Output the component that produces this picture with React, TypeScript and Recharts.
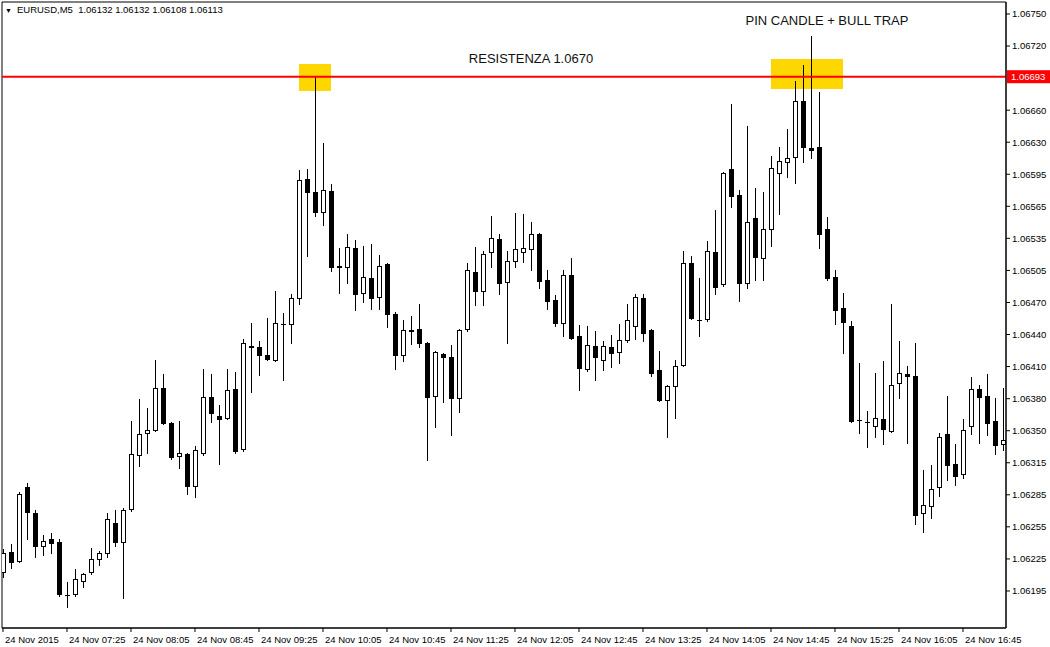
import React from 'react';
import {
  ComposedChart,
  Bar,
  XAxis,
  YAxis,
  ReferenceLine,
  ReferenceArea,
  ReferenceDot,
} from 'recharts';

// EURUSD M5, 24 Nov 2015, candles 06:45 .. 17:10 (one per 5 minutes)
const OPEN = [
  1.06217, 1.06236, 1.06227, 1.06298, 1.06273, 1.06242, 1.06248, 1.06246, 1.06195, 1.06196,
  1.06208, 1.06217, 1.06229, 1.06235, 1.06264, 1.06246, 1.06277, 1.06329, 1.06350, 1.06353,
  1.06394, 1.06360, 1.06328, 1.06330, 1.06299, 1.06331, 1.06385, 1.06367, 1.06365, 1.06393,
  1.06335, 1.06434, 1.06433, 1.06425, 1.06421, 1.06455, 1.06455, 1.06480, 1.06595, 1.06582,
  1.06563, 1.06583, 1.06511, 1.06510, 1.06528, 1.06485, 1.06499, 1.06481, 1.06513, 1.06465,
  1.06425, 1.06449, 1.06450, 1.06437, 1.06386, 1.06426, 1.06423, 1.06384, 1.06450, 1.06505,
  1.06487, 1.06524, 1.06537, 1.06496, 1.06516, 1.06524, 1.06527, 1.06542, 1.06498, 1.06478,
  1.06456, 1.06502, 1.06444, 1.06412, 1.06434, 1.06421, 1.06433, 1.06428, 1.06440, 1.06453,
  1.06480, 1.06449, 1.06411, 1.06382, 1.06396, 1.06416, 1.06514, 1.06459, 1.06460, 1.06524,
  1.06494, 1.06604, 1.06579, 1.06495, 1.06557, 1.06519, 1.06547, 1.06600, 1.06611, 1.06616,
  1.06670, 1.06624, 1.06625, 1.06547, 1.06500, 1.06471, 1.06453, 1.06363, 1.06361, 1.06357,
  1.06364, 1.06352, 1.06398, 1.06407, 1.06405, 1.06273, 1.06280, 1.06298, 1.06349, 1.06321,
  1.06311, 1.06357, 1.06393, 1.06386, 1.06362, 1.06340,
];
const HIGH = [
  1.06239, 1.06244, 1.06294, 1.06302, 1.06276, 1.06252, 1.06254, 1.06248, 1.06207, 1.06220,
  1.06216, 1.06240, 1.06237, 1.06273, 1.06276, 1.06278, 1.06362, 1.06383, 1.06374, 1.06421,
  1.06407, 1.06361, 1.06362, 1.06331, 1.06338, 1.06412, 1.06407, 1.06377, 1.06412, 1.06409,
  1.06441, 1.06456, 1.06439, 1.06461, 1.06487, 1.06466, 1.06484, 1.06603, 1.06604, 1.06693,
  1.06629, 1.06590, 1.06528, 1.06542, 1.06536, 1.06530, 1.06532, 1.06522, 1.06514, 1.06467,
  1.06459, 1.06463, 1.06474, 1.06438, 1.06429, 1.06427, 1.06435, 1.06450, 1.06514, 1.06529,
  1.06525, 1.06559, 1.06542, 1.06525, 1.06562, 1.06561, 1.06553, 1.06543, 1.06507, 1.06483,
  1.06507, 1.06519, 1.06454, 1.06453, 1.06448, 1.06439, 1.06445, 1.06455, 1.06474, 1.06484,
  1.06484, 1.06450, 1.06429, 1.06397, 1.06421, 1.06525, 1.06521, 1.06499, 1.06535, 1.06565,
  1.06601, 1.06667, 1.06584, 1.06646, 1.06586, 1.06582, 1.06617, 1.06625, 1.06643, 1.06689,
  1.06704, 1.06732, 1.06678, 1.06558, 1.06507, 1.06485, 1.06458, 1.06418, 1.06372, 1.06408,
  1.06420, 1.06474, 1.06439, 1.06415, 1.06437, 1.06315, 1.06320, 1.06350, 1.06386, 1.06340,
  1.06364, 1.06404, 1.06397, 1.06407, 1.06384, 1.06394,
];
const LOW = [
  1.06212, 1.06221, 1.06226, 1.06248, 1.06231, 1.06233, 1.06235, 1.06194, 1.06183, 1.06194,
  1.06202, 1.06215, 1.06223, 1.06231, 1.06242, 1.06192, 1.06275, 1.06319, 1.06331, 1.06352,
  1.06359, 1.06325, 1.06317, 1.06292, 1.06289, 1.06329, 1.06361, 1.06321, 1.06364, 1.06331,
  1.06333, 1.06390, 1.06406, 1.06421, 1.06420, 1.06401, 1.06437, 1.06474, 1.06521, 1.06559,
  1.06550, 1.06506, 1.06485, 1.06495, 1.06469, 1.06476, 1.06470, 1.06470, 1.06452, 1.06412,
  1.06420, 1.06436, 1.06433, 1.06324, 1.06356, 1.06380, 1.06348, 1.06371, 1.06448, 1.06473,
  1.06473, 1.06510, 1.06484, 1.06437, 1.06510, 1.06515, 1.06507, 1.06490, 1.06470, 1.06453,
  1.06444, 1.06441, 1.06392, 1.06410, 1.06401, 1.06411, 1.06414, 1.06418, 1.06438, 1.06441,
  1.06439, 1.06405, 1.06381, 1.06347, 1.06365, 1.06415, 1.06460, 1.06444, 1.06458, 1.06484,
  1.06492, 1.06568, 1.06477, 1.06490, 1.06498, 1.06498, 1.06530, 1.06561, 1.06597, 1.06591,
  1.06611, 1.06615, 1.06528, 1.06498, 1.06455, 1.06427, 1.06361, 1.06350, 1.06337, 1.06347,
  1.06340, 1.06351, 1.06384, 1.06341, 1.06263, 1.06255, 1.06269, 1.06290, 1.06305, 1.06300,
  1.06307, 1.06349, 1.06341, 1.06348, 1.06330, 1.06334,
];
const CLOSE = [
  1.06235, 1.06226, 1.06292, 1.06274, 1.06242, 1.06247, 1.06245, 1.06196, 1.06195, 1.06210,
  1.06215, 1.06229, 1.06235, 1.06268, 1.06246, 1.06276, 1.06330, 1.06349, 1.06353, 1.06394,
  1.06360, 1.06327, 1.06331, 1.06299, 1.06334, 1.06385, 1.06370, 1.06364, 1.06392, 1.06333,
  1.06437, 1.06433, 1.06425, 1.06422, 1.06456, 1.06455, 1.06480, 1.06594, 1.06582, 1.06563,
  1.06584, 1.06510, 1.06510, 1.06529, 1.06484, 1.06500, 1.06480, 1.06511, 1.06465, 1.06425,
  1.06449, 1.06448, 1.06437, 1.06385, 1.06428, 1.06423, 1.06384, 1.06449, 1.06507, 1.06487,
  1.06523, 1.06538, 1.06495, 1.06516, 1.06527, 1.06528, 1.06542, 1.06497, 1.06477, 1.06456,
  1.06502, 1.06442, 1.06413, 1.06435, 1.06423, 1.06434, 1.06427, 1.06440, 1.06459, 1.06481,
  1.06447, 1.06408, 1.06382, 1.06396, 1.06415, 1.06514, 1.06461, 1.06459, 1.06525, 1.06491,
  1.06600, 1.06578, 1.06495, 1.06553, 1.06520, 1.06547, 1.06605, 1.06612, 1.06615, 1.06670,
  1.06625, 1.06623, 1.06542, 1.06499, 1.06469, 1.06457, 1.06362, 1.06363, 1.06361, 1.06365,
  1.06354, 1.06397, 1.06408, 1.06405, 1.06272, 1.06281, 1.06297, 1.06347, 1.06320, 1.06309,
  1.06353, 1.06393, 1.06385, 1.06360, 1.06339, 1.06344,
];

// time axis: a label every 8 candles
const TIME_TICKS = [0, 8, 16, 24, 32, 40, 48, 56, 64, 72, 80, 88, 96, 104, 112, 120];
const TIME_LABELS = [
  '24 Nov 2015', '24 Nov 07:25', '24 Nov 08:05', '24 Nov 08:45', '24 Nov 09:25', '24 Nov 10:05',
  '24 Nov 10:45', '24 Nov 11:25', '24 Nov 12:05', '24 Nov 12:45', '24 Nov 13:25', '24 Nov 14:05',
  '24 Nov 14:45', '24 Nov 15:25', '24 Nov 16:05', '24 Nov 16:45',
];

// price scale (grid of the terminal, labels are rounded by it)
const PRICE_TICKS = [
  1.067533, 1.067225, 1.066608, 1.0663, 1.065992, 1.065684, 1.065376, 1.065067, 1.064759,
  1.064451, 1.064143, 1.063834, 1.063526, 1.063218, 1.06291, 1.062602, 1.062293, 1.061985,
];
const PRICE_LABELS = [
  '1.06750', '1.06720', '1.06660', '1.06630', '1.06595', '1.06565', '1.06535', '1.06505', '1.06470',
  '1.06440', '1.06410', '1.06380', '1.06350', '1.06315', '1.06285', '1.06255', '1.06225', '1.06195',
];

const RESISTANCE = 1.06693;
const PIN_ZONES = [
  { x1: 37, x2: 41, y1: 1.066793, y2: 1.067052 },
  { x1: 96, x2: 105, y1: 1.066812, y2: 1.067100 },
];
const NOTES = [
  { x: 66, y: 1.06711, text: 'RESISTENZA 1.0670' },
  { x: 103, y: 1.067475, text: 'PIN CANDLE + BULL TRAP' },
];

const Y_DOMAIN = [1.061629, 1.0676483];
const X_DOMAIN = [-0.125, 125.375];
const FONT = '"Liberation Sans", Arial, sans-serif';

const data = OPEN.map((open, i) => ({
  i,
  open,
  high: HIGH[i],
  low: LOW[i],
  close: CLOSE[i],
  range: [LOW[i], HIGH[i]],
}));

function Candle(props: any) {
  const { x, y, width, height, payload } = props;
  if (!payload) return null;
  const { open, close, high, low } = payload;
  const cx = Math.round(x + width / 2);
  const toY = (p: number) => y + ((high - p) / (high - low)) * height;
  const top = Math.round(toY(Math.max(open, close)));
  const bottom = Math.round(toY(Math.min(open, close)));
  const flat = bottom - top < 1;
  return (
    <g shapeRendering="crispEdges">
      <line x1={cx + 0.5} x2={cx + 0.5} y1={Math.round(y)} y2={Math.round(y + height) + 1} stroke="#000" />
      {flat ? (
        <line x1={cx - 2} x2={cx + 3} y1={top + 0.5} y2={top + 0.5} stroke="#000" />
      ) : close > open ? (
        <rect x={cx - 1.5} y={top + 0.5} width={4} height={bottom - top} fill="#fff" stroke="#000" />
      ) : (
        <rect x={cx - 2} y={top} width={5} height={bottom - top + 1} fill="#000" />
      )}
    </g>
  );
}

const TimeTick = (props: any) => {
  const { x, y, payload } = props;
  const label = TIME_LABELS[TIME_TICKS.indexOf(payload.value)];
  return (
    <text x={x + 2} y={y + 9} textAnchor="start" fontSize={9.5} fontFamily={FONT} fill="#000">
      {label}
    </text>
  );
};

const PriceTag = (props: any) => {
  const { viewBox } = props;
  const left = viewBox.x + viewBox.width + 1;
  return (
    <g>
      <rect x={left} y={viewBox.y - 6.5} width={44} height={13} fill="#ff0000" />
      <text x={left + 4} y={viewBox.y + 3.5} fontSize={9.5} fontFamily={FONT} fill="#fff">
        {RESISTANCE.toFixed(5)}
      </text>
    </g>
  );
};

export default function App() {
  return (
    <div style={{ position: 'absolute', left: 0, top: 0, width: 1050, height: 647, background: '#fff' }}>
      <ComposedChart width={1050} height={647} data={data} margin={{ top: 2, right: 0, bottom: 0, left: 2 }}>
        <XAxis
          dataKey="i"
          type="number"
          domain={X_DOMAIN}
          allowDataOverflow
          ticks={TIME_TICKS}
          height={19}
          axisLine={{ stroke: '#000' }}
          tickLine={{ stroke: '#000' }}
          tickSize={4}
          tick={<TimeTick />}
          interval={0}
        />
        <YAxis
          orientation="right"
          type="number"
          domain={Y_DOMAIN}
          allowDataOverflow
          ticks={PRICE_TICKS}
          width={44}
          interval={0}
          axisLine={{ stroke: '#000' }}
          tickLine={{ stroke: '#000' }}
          tickSize={4}
          tickMargin={2}
          tick={{ fill: '#000', fontSize: 9.5, fontFamily: FONT }}
          tickFormatter={(v: number, idx: number) => PRICE_LABELS[idx] ?? ''}
        />
        <ReferenceArea
          x1={X_DOMAIN[0]}
          x2={X_DOMAIN[1]}
          y1={Y_DOMAIN[0]}
          y2={Y_DOMAIN[1]}
          fill="none"
          stroke="#000"
          strokeOpacity={1}
          fillOpacity={0}
        />
        {PIN_ZONES.map((z, k) => (
          <ReferenceArea key={k} x1={z.x1} x2={z.x2} y1={z.y1} y2={z.y2} fill="#ffd700" fillOpacity={1} stroke="none" />
        ))}
        <Bar dataKey="range" barSize={5} shape={(p: any) => <Candle {...p} />} isAnimationActive={false} />
        <ReferenceLine y={RESISTANCE} stroke="#ff0000" strokeWidth={2} label={<PriceTag />} />
        {NOTES.map((n, k) => (
          <ReferenceDot
            key={k}
            x={n.x}
            y={n.y}
            r={0}
            fill="none"
            stroke="none"
            label={{ value: n.text, position: 'center', fill: '#111', fontSize: 13, fontFamily: FONT }}
          />
        ))}
      </ComposedChart>
      <div
        style={{
          position: 'absolute',
          left: 5,
          top: 4,
          fontFamily: FONT,
          fontSize: 9.5,
          color: '#000',
          whiteSpace: 'pre',
          lineHeight: '12px',
        }}
      >
        <span style={{ fontSize: 7, marginRight: 5 }}>▼</span>
        {'EURUSD,M5  1.06132 1.06132 1.06108 1.06113'}
      </div>
    </div>
  );
}
